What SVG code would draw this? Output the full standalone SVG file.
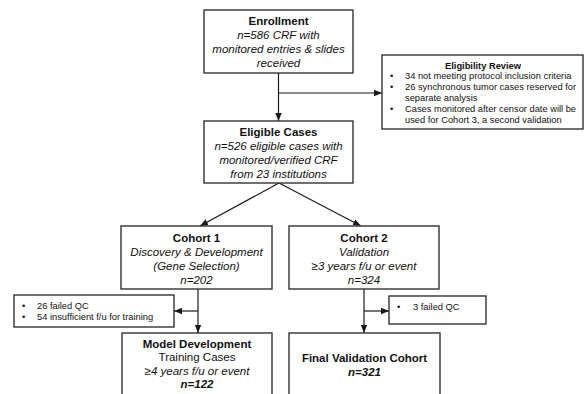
<svg xmlns="http://www.w3.org/2000/svg" width="584" height="394" viewBox="0 0 584 394">
<defs>
<marker id="arr" markerUnits="userSpaceOnUse" markerWidth="8" markerHeight="8" viewBox="0 0 8 8" refX="8" refY="4" orient="auto">
<path d="M0,0.8 L8,4 L0,7.2 Z" fill="#1a1a1a"/>
</marker>
<style>
.box{fill:#fff;stroke:#333;stroke-width:1.4}
.ln{fill:none;stroke:#1a1a1a;stroke-width:1.2;marker-end:url(#arr)}
.plain{fill:none;stroke:#1a1a1a;stroke-width:1.2}
text{font-family:"Liberation Sans",Arial,sans-serif;fill:#111}
.m{font-size:11.5px;text-anchor:middle}
.b{font-weight:bold}
.i{font-style:italic}
.s{font-size:9.3px}
.sc{font-size:9.3px;text-anchor:middle;font-weight:bold}
</style>
</defs>
<rect width="584" height="394" fill="#fff"/>
<g id="connectors">
<path class="ln" d="M278.5,73 V121"/>
<path class="ln" d="M278.5,93 H382"/>
<path class="ln" d="M279,183 L200,226"/>
<path class="ln" d="M279,183 L361,226"/>
<path class="ln" d="M198,289 V333"/>
<path class="ln" d="M198,311 H174"/>
<path class="ln" d="M364,289 V333"/>
<path class="ln" d="M364,311 H389"/>
</g>
<g id="enrollment">
<rect class="box" x="204" y="10" width="149" height="63"/>
<text class="m b" x="278.5" y="24.5">Enrollment</text>
<text class="m i" x="278.5" y="38.5">n=586 CRF with</text>
<text class="m i" x="278.5" y="52.5">monitored entries &amp; slides</text>
<text class="m i" x="278.5" y="66.5">received</text>
</g>
<g id="eligibility-review">
<rect class="box" x="382" y="55" width="201" height="74"/>
<text class="sc" x="483" y="69">Eligibility Review</text>
<text class="s" x="390" y="78.5">•</text>
<text class="s" x="405" y="78.5">34 not meeting protocol inclusion criteria</text>
<text class="s" x="390" y="89.5">•</text>
<text class="s" x="405" y="89.5">26 synchronous tumor cases reserved for</text>
<text class="s" x="405" y="100.5">separate analysis</text>
<text class="s" x="390" y="111.5">•</text>
<text class="s" x="405" y="111.5">Cases monitored after censor date will be</text>
<text class="s" x="405" y="122.5">used for Cohort 3, a second validation</text>
</g>
<g id="eligible-cases">
<rect class="box" x="204" y="121" width="149" height="62"/>
<text class="m b" x="278.5" y="135.5">Eligible Cases</text>
<text class="m i" x="278.5" y="149.5">n=526 eligible cases with</text>
<text class="m i" x="278.5" y="163.5">monitored/verified CRF</text>
<text class="m i" x="278.5" y="177.5">from 23 institutions</text>
</g>
<g id="cohort1">
<rect class="box" x="121" y="226" width="151" height="63"/>
<text class="m b" x="196.5" y="242">Cohort 1</text>
<text class="m i" x="196.5" y="256">Discovery &amp; Development</text>
<text class="m i" x="196.5" y="270">(Gene Selection)</text>
<text class="m i" x="196.5" y="284">n=202</text>
</g>
<g id="cohort2">
<rect class="box" x="289" y="226" width="150" height="63"/>
<text class="m b" x="364" y="242">Cohort 2</text>
<text class="m i" x="364" y="256">Validation</text>
<text class="m i" x="364" y="270">≥3 years f/u or event</text>
<text class="m i" x="364" y="284">n=324</text>
</g>
<g id="excluded1">
<rect class="box" x="14" y="295" width="160" height="32"/>
<text class="s" x="22" y="308.5">•</text>
<text class="s" x="37" y="308.5">26 failed QC</text>
<text class="s" x="22" y="319.5">•</text>
<text class="s" x="37" y="319.5">54 insufficient f/u for training</text>
</g>
<g id="excluded2">
<rect class="box" x="389" y="296" width="97" height="28"/>
<text class="s" x="397" y="309.5">•</text>
<text class="s" x="413" y="309.5">3 failed QC</text>
</g>
<g id="model-development">
<rect class="box" x="122" y="333" width="150" height="70"/>
<text class="m b" x="197" y="347.5">Model Development</text>
<text class="m" x="197" y="361">Training Cases</text>
<text class="m i" x="197" y="374.5">≥4 years f/u or event</text>
<text class="m b i" x="197" y="388">n=122</text>
</g>
<g id="final-validation">
<rect class="box" x="289" y="333" width="151" height="70"/>
<text class="m b" x="364.5" y="362">Final Validation Cohort</text>
<text class="m b i" x="364.5" y="375.5">n=321</text>
</g>
</svg>
